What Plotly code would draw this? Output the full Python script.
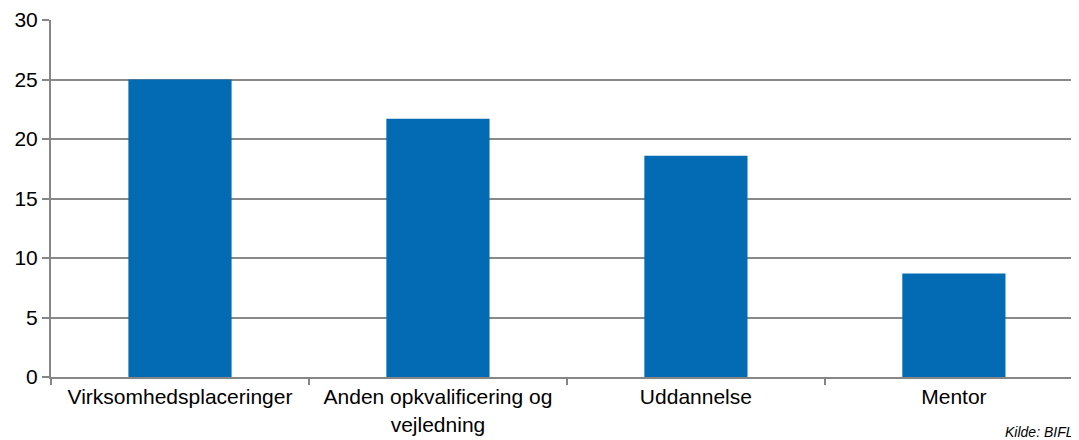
import plotly.graph_objects as go

categories = [
    "Virksomhedsplaceringer",
    "Anden opkvalificering og<br>vejledning",
    "Uddannelse",
    "Mentor",
]
values = [25.0, 21.7, 18.6, 8.7]
y_ticks = [0, 5, 10, 15, 20, 25, 30]
source_note = "Kilde: BIFL"

fig = go.Figure()
fig.add_trace(
    go.Bar(
        x=categories,
        y=values,
        marker=dict(color="#036BB4", line=dict(width=0)),
        width=0.4,
    )
)

# page body adds 8px offset, margins compensate for it
fig.update_layout(
    width=1079,
    height=440,
    margin=dict(l=43, r=0, t=12, b=71),
    paper_bgcolor="white",
    plot_bgcolor="white",
    showlegend=False,
    font=dict(family="Liberation Sans, Arial, sans-serif", size=21, color="black"),
)

fig.update_xaxes(
    range=[-0.5, 3.516],
    automargin=False,
    showline=True,
    linecolor="#868686",
    linewidth=2,
    ticks="outside",
    tickson="boundaries",
    ticklen=6,
    tickcolor="#868686",
    tickwidth=2,
    showgrid=False,
    tickfont=dict(size=21),
)
fig.update_yaxes(
    range=[0, 30],
    automargin=False,
    tickvals=y_ticks,
    showline=True,
    linecolor="#868686",
    linewidth=2,
    ticks="outside",
    ticklen=7,
    tickcolor="#868686",
    tickwidth=2,
    showgrid=True,
    gridcolor="#898989",
    gridwidth=1.5,
    zeroline=False,
    tickfont=dict(size=21),
)

fig.add_annotation(
    text="<i>" + source_note + "</i>",
    xref="paper",
    yref="paper",
    x=0.988,
    y=-0.125,
    xanchor="right",
    yanchor="top",
    showarrow=False,
    font=dict(family="Liberation Sans, Arial, sans-serif", size=14, color="black"),
)

fig.write_html("out.html")
